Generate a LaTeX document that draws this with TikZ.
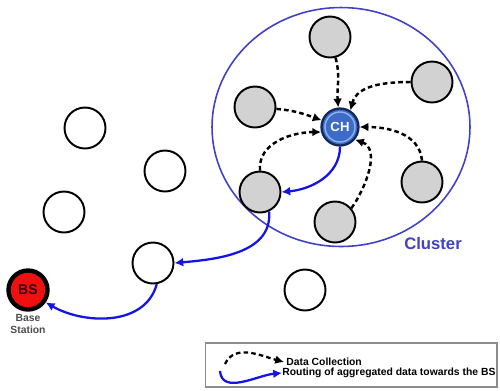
\documentclass[tikz,border=0pt]{standalone}
\usepackage{fontspec}
\setmainfont{Liberation Sans}
\usetikzlibrary{arrows.meta,shapes.geometric}
\definecolor{nodegray}{HTML}{D2D2D2}
\definecolor{chblue}{HTML}{3C6CC8}
\definecolor{chring}{HTML}{8FB4EC}
\definecolor{chnavy}{HTML}{13285A}
\definecolor{clusterblue}{HTML}{4040C8}
\definecolor{routeblue}{HTML}{1414E6}
\definecolor{bsred}{HTML}{F01010}
\tikzset{
  plain/.style={circle, draw=black, line width=1.1pt, fill=white, minimum size=0.82cm, inner sep=0pt},
  member/.style={plain, fill=nodegray},
  headnode/.style={circle, draw=chnavy, line width=1.3pt, fill=chblue, minimum size=0.74cm, inner sep=0pt,
    font=\bfseries\fontsize{7.5}{8}\selectfont, text=white},
  basenode/.style={circle, draw=black, line width=2.5pt, fill=bsred, minimum size=0.78cm, inner sep=0pt,
    font=\bfseries\fontsize{8}{9}\selectfont, text=black!80!red},
  collect/.style={draw=black, line width=1.4pt, dash pattern=on 2.6pt off 1.8pt,
    -{Latex[length=5pt,width=5pt]}},
  route/.style={draw=routeblue, line width=1.3pt, -{Latex[length=5pt,width=5pt]}},
  smalltext/.style={font=\bfseries\fontsize{5.9}{6.8}\selectfont, inner sep=0pt},
}
\begin{document}
\begin{tikzpicture}[x=0.02cm, y=-0.02cm]
\useasboundingbox (0,0) rectangle (500,390);

% cluster boundary
\node[ellipse, draw=clusterblue, line width=0.9pt, minimum width=5.16cm, minimum height=4.78cm, inner sep=0pt]
  (cluster) at (341,127) {};
\node[font=\bfseries\fontsize{9.5}{11}\selectfont, text=clusterblue] (clusterlabel) at (433,244) {Cluster};

% cluster members and head
\node[member] (top) at (330,37) {};
\node[member] (ur)  at (432,82) {};
\node[member] (lft) at (255,107) {};
\node[member] (rl)  at (422,182) {};
\node[member] (ll)  at (260,192) {};
\node[member] (bot) at (335,222) {};
\node[headnode] (ch) at (340,127) {CH};
\draw[chring, line width=0.8pt] (ch.center) circle (0.3cm);

% nodes outside the cluster
\node[plain] (w1) at (85,128) {};
\node[plain] (w2) at (165,171) {};
\node[plain] (w3) at (64,212) {};
\node[plain] (w4) at (153,263) {};
\node[plain] (w5) at (305,290) {};

% base station
\node[basenode] (bs) at (28,290) {BS};
\node[smalltext, text=black!70, align=center] (bslabel) at (28,324) {Base\\Station};

% data collection towards the cluster head
\draw[collect] (top.-75) to[out=-75,in=95] (ch.95);
\draw[collect] (ur.west) to[out=180,in=75] (ch.58);
\draw[collect] (lft.-5) to[out=-5,in=160] (ch.160);
\draw[collect] (rl.north) to[out=95,in=0] (ch.east);
\draw[collect] (ll.north) to[out=95,in=180] (ch.195);
\draw[collect] (bot.40) to[out=55,in=-20] (ch.-40);

% routing of aggregated data towards the base station
\draw[route] (ch.south) to[out=-90,in=5] (ll.east);
\draw[route] (ll.-65) to[out=-85,in=5] (w4.east);
\draw[route] (w4.-80) to[out=-105,in=-30] (bs.-35);

% legend
\node[draw=black!45, line width=0.6pt, minimum width=5.84cm, minimum height=0.88cm, inner sep=0pt]
  (legend) at (351,365) {};
\coordinate (dcstart) at (225,364);
\coordinate (dcend) at (284,362);
\coordinate (rtstart) at (220,371);
\coordinate (rtend) at (282,373);
\draw[collect, line width=1.3pt] (dcstart) to[out=65,in=165] (dcend);
\draw[route] (rtstart) to[out=-85,in=185] (rtend);
\node[smalltext, anchor=west] (dclabel) at (286,362) {Data Collection};
\node[smalltext, anchor=west] (rtlabel) at (282,373) {Routing of aggregated data towards the BS};
\end{tikzpicture}
\end{document}
